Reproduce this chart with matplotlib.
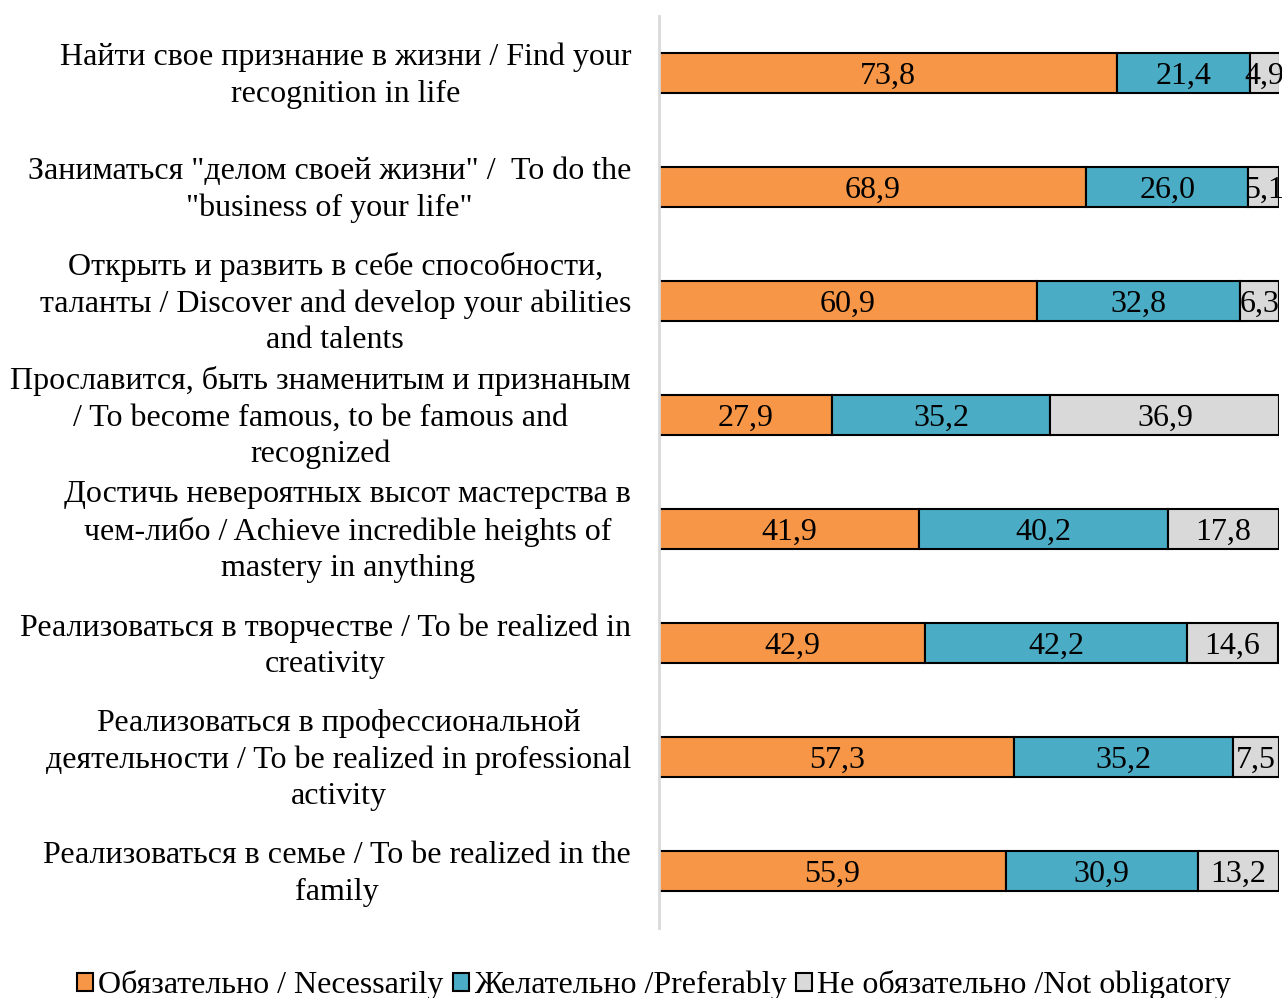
import matplotlib.pyplot as plt
from matplotlib.patches import Patch

plt.rcParams['font.family'] = ['Liberation Serif', 'DejaVu Serif']

categories = [
    'Найти свое признание в жизни / Find your\nrecognition in life',
    'Заниматься "делом своей жизни" /  To do the\n"business of your life"',
    'Открыть и развить в себе способности,\nталанты / Discover and develop your abilities\nand talents',
    'Прославится, быть знаменитым и признаным\n/ To become famous, to be famous and\nrecognized',
    'Достичь невероятных высот мастерства в\nчем-либо / Achieve incredible heights of\nmastery in anything',
    'Реализоваться в творчестве / To be realized in\ncreativity',
    'Реализоваться в профессиональной\nдеятельности / To be realized in professional\nactivity',
    'Реализоваться в семье / To be realized in the\nfamily',
]
necessarily = [73.8, 68.9, 60.9, 27.9, 41.9, 42.9, 57.3, 55.9]
preferably = [21.4, 26.0, 32.8, 35.2, 40.2, 42.2, 35.2, 30.9]
not_obligatory = [4.9, 5.1, 6.3, 36.9, 17.8, 14.6, 7.5, 13.2]

series = [
    ('Обязательно / Necessarily', necessarily, '#F79646'),
    ('Желательно /Preferably', preferably, '#4BACC6'),
    ('Не обязательно /Not obligatory', not_obligatory, '#D9D9D9'),
]

fig = plt.figure(figsize=(12.82, 9.98), dpi=100)
ax = fig.add_axes([0.514, 0.07, 0.484, 0.914])

y = list(range(len(categories)))
left = [0.0] * len(categories)
for name, vals, color in series:
    ax.barh(y, vals, left=left, height=0.35, color=color,
            edgecolor='black', linewidth=1.5, label=name)
    for i, v in enumerate(vals):
        ax.text(left[i] + v / 2, i + 0.025, f'{v:.1f}'.replace('.', ','),
                ha='center', va='center', fontsize=23, color='black')
    left = [l + v for l, v in zip(left, vals)]

ax.set_xlim(0, 100)
ax.set_ylim(len(categories) - 0.5, -0.5)
ax.set_xticks([])
ax.set_yticks([])
for s in ['top', 'right', 'bottom']:
    ax.spines[s].set_visible(False)
ax.spines['left'].set_color('#D9D9D9')
ax.spines['left'].set_linewidth(2)

for i, cat in enumerate(categories):
    ax.text(-0.045, i + 0.025, cat, transform=ax.get_yaxis_transform(),
            ha='right', va='center', multialignment='center',
            fontsize=23, linespacing=1.33)

handles = [Patch(facecolor=c, edgecolor='black', linewidth=1.5, label=n)
           for n, _, c in series]
fig.legend(handles=handles, loc='center', bbox_to_anchor=(0.51, 0.013),
           ncol=3, frameon=False, fontsize=23, handlelength=0.5,
           handleheight=0.5, handletextpad=0.15, columnspacing=0.3)

plt.savefig('out.png', dpi=100)
